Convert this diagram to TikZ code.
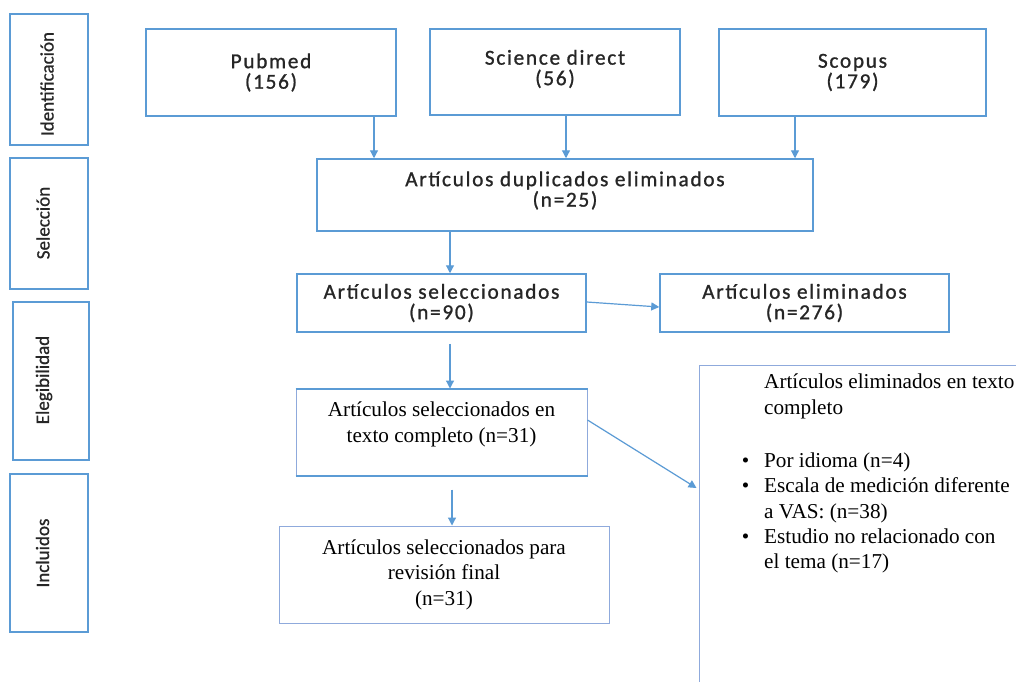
\documentclass[tikz,border=0pt]{standalone}
\usepackage{fontspec}
\setmainfont{Liberation Serif}
\newfontfamily\dbfont[LetterSpace=8,FakeBold=1]{Carlito}
\newfontfamily\phasefont[FakeBold=0.8]{Carlito}
\usetikzlibrary{arrows.meta}
\definecolor{boxblue}{RGB}{91,155,213}
\definecolor{lineblue}{RGB}{143,170,220}
\definecolor{textgray}{RGB}{38,38,38}

\begin{document}
\begin{tikzpicture}[x=1pt,y=-1pt,
    phase/.style={draw=boxblue,line width=1.5pt,inner sep=0pt},
    phasetxt/.style={rotate=90,inner sep=0pt,text=textgray,font=\phasefont\fontsize{19}{21}\selectfont},
    dbbox/.style={draw=boxblue,line width=1.5pt,inner sep=0pt,align=center,text=textgray,font=\dbfont\fontsize{21.3}{20.5}\selectfont},
    tbox/.style={draw=lineblue,line width=1pt,inner sep=0pt,align=center,font=\fontsize{21.2}{25.5}\selectfont},
    arr/.style={boxblue,line width=1.2pt,-{Triangle[length=8pt,width=8pt]}}]
    \clip (0,0) rectangle (1016,681);
    \fill[white] (0,0) rectangle (1016,681);
    % fases
    \node[phase,minimum width=78pt,minimum height=131pt] (ident) at (49,79.5) {};
    \node[phasetxt] (identlbl) at (47,84) {Identificación};
    \node[phase,minimum width=78pt,minimum height=131pt] (selec) at (49,223.5) {};
    \node[phasetxt] (seleclbl) at (43,223) {Selección};
    \node[phase,minimum width=76pt,minimum height=158pt] (eleg) at (51,381) {};
    \node[phasetxt] (eleglbl) at (44,380) {Elegibilidad};
    \node[phase,minimum width=78pt,minimum height=158pt] (incl) at (49,553) {};
    \node[phasetxt] (incllbl) at (42.5,553) {Incluidos};
    % bases de datos
    \node[dbbox,minimum width=250pt,minimum height=87pt] (pubmed) at (271,72.5) {Pubmed\\(156)};
    \node[dbbox,minimum width=250pt,minimum height=86pt,text depth=9pt] (scidir) at (555,72) {Science direct\\(56)};
    \node[dbbox,minimum width=267pt,minimum height=87pt] (scopus) at (852.5,72.5) {Scopus\\(179)};
    \node[dbbox,minimum width=496pt,minimum height=72pt,text depth=12pt] (dup) at (565,195) {Artículos duplicados eliminados\\(n=25)};
    \node[dbbox,minimum width=289pt,minimum height=58pt] (sel) at (441.5,303) {Artículos seleccionados\\(n=90)};
    \node[dbbox,minimum width=289pt,minimum height=58pt] (elim) at (804.5,303) {Artículos eliminados\\(n=276)};
    % texto completo
    \node[tbox,minimum width=291pt,minimum height=86pt,text depth=20pt] (full) at (441.5,432) {Artículos seleccionados en\\texto completo (n=31)};
    \draw[boxblue,line width=2pt] (full.north west) -- (full.north east);
    \draw[boxblue,line width=2pt] (full.south west) -- (full.south east);
    \node[tbox,minimum width=330pt,minimum height=97pt] (final) at (444,574.5) {Artículos seleccionados para\\revisión final\\(n=31)};
    \node[tbox,minimum width=340pt,minimum height=340pt] (elimfull) at (869,535) {};
    \node[inner sep=0pt,anchor=north west,align=left,font=\fontsize{21.2}{25.3}\selectfont] (elimtxt) at (764,374) {Artículos eliminados en texto\\completo\\[28pt]
      \llap{\textbullet\hspace{15pt}}Por idioma (n=4)\\
      \llap{\textbullet\hspace{15pt}}Escala de medición diferente\\
      a VAS: (n=38)\\
      \llap{\textbullet\hspace{15pt}}Estudio no relacionado con\\
      el tema (n=17)};
    % flechas
    \draw[arr] ([xshift=103pt]pubmed.south) -- ([xshift=103pt]pubmed.south |- dup.north);
    \draw[arr] ([xshift=11pt]scidir.south) -- ([xshift=11pt]scidir.south |- dup.north);
    \draw[arr] ([xshift=-57.5pt]scopus.south) -- ([xshift=-57.5pt]scopus.south |- dup.north);
    \draw[arr] ([xshift=8.5pt]sel.north |- dup.south) -- ([xshift=8.5pt]sel.north);
    \draw[arr] ([yshift=1pt]sel.east) -- ([yshift=-4pt]elim.west);
    \draw[arr] ([xshift=8.5pt,yshift=-11pt]sel.south) -- ([xshift=8.5pt]sel.south |- full.north);
    \draw[arr] ([xshift=10.5pt,yshift=-14pt]full.south) -- ([xshift=10.5pt]full.south |- final.north);
    \draw[arr] ([yshift=12pt]full.east) -- ([xshift=-2pt,yshift=47pt]elimfull.west);
  \end{tikzpicture}
\end{document}
